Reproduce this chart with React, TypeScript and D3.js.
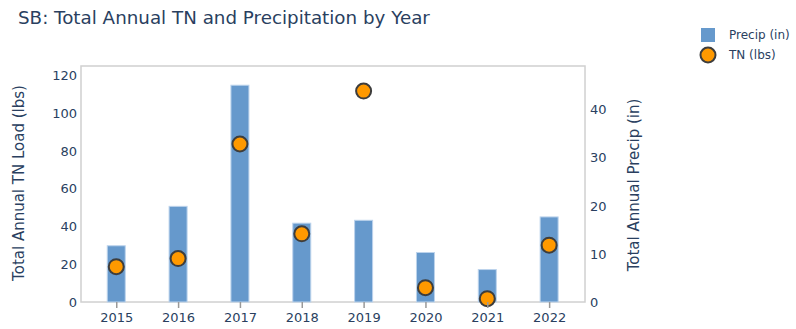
import { useEffect, useRef } from 'react';
import * as d3 from 'd3';

const years = [2015, 2016, 2017, 2018, 2019, 2020, 2021, 2022];
const precipIn = [11.7, 19.9, 45.1, 16.4, 17.0, 10.3, 6.75, 17.7];
const tnLbs = [18.7, 23.0, 83.7, 36.1, 111.7, 7.6, 1.75, 30.1];
const leftTicks = [0, 20, 40, 60, 80, 100, 120];
const rightTicks = [0, 10, 20, 30, 40];

const textColor = '#2a3f5f';
const font = 'Verdana, "DejaVu Sans", sans-serif';

export default function App() {
  const svgRef = useRef<SVGSVGElement>(null);

  useEffect(() => {
    if (!svgRef.current) return;
    const width = 796;
    const height = 329;
    const margin = { top: 66, right: 211, bottom: 27, left: 81 };
    const innerWidth = width - margin.left - margin.right;
    const innerHeight = height - margin.top - margin.bottom;

    const svg = d3.select(svgRef.current);
    svg.selectAll('*').remove();
    svg.attr('width', width).attr('height', height).style('font-family', font);

    // title
    svg.append('text')
      .attr('x', 18)
      .attr('y', 24)
      .attr('fill', textColor)
      .attr('font-size', 18.3)
      .text('SB: Total Annual TN and Precipitation by Year');

    const x = d3.scaleLinear().domain([2014.43, 2022.58]).range([0, innerWidth]);
    const yLeft = d3.scaleLinear().domain([0, 125]).range([innerHeight, 0]);
    const yRight = d3.scaleLinear().domain([0, 49.1]).range([innerHeight, 0]);

    const g = svg.append('g').attr('transform', `translate(${margin.left},${margin.top})`);

    g.append('rect')
      .attr('width', innerWidth)
      .attr('height', innerHeight)
      .attr('fill', 'none')
      .attr('stroke', '#d0d0d0')
      .attr('stroke-width', 1.5);

    // bars
    const barW = 18;
    g.selectAll('rect.bar')
      .data(years)
      .enter()
      .append('rect')
      .attr('class', 'bar')
      .attr('x', (d) => x(d) - barW / 2)
      .attr('width', barW)
      .attr('y', (d, i) => yRight(precipIn[i]))
      .attr('height', (d, i) => innerHeight - yRight(precipIn[i]))
      .attr('fill', '#6699cc')
      .attr('stroke', '#bcd3ec')
      .attr('stroke-width', 1);

    // points
    g.selectAll('circle.pt')
      .data(years)
      .enter()
      .append('circle')
      .attr('class', 'pt')
      .attr('cx', (d) => x(d))
      .attr('cy', (d, i) => yLeft(tnLbs[i]))
      .attr('r', 7.5)
      .attr('fill', '#ff9900')
      .attr('stroke', '#3d3d3d')
      .attr('stroke-width', 2);

    // x axis
    const xAxis = g.append('g')
      .attr('transform', `translate(0,${innerHeight})`)
      .call(d3.axisBottom(x).tickValues(years).tickFormat(d3.format('d')).tickSize(6).tickPadding(5));
    xAxis.select('.domain').remove();
    xAxis.selectAll('line').attr('stroke', '#999').attr('stroke-width', 1.5);
    xAxis.selectAll('text').attr('fill', textColor).attr('font-size', 13).attr('font-family', font);

    // left axis
    const la = g.append('g')
      .call(d3.axisLeft(yLeft).tickValues(leftTicks).tickSize(0).tickPadding(4));
    la.select('.domain').remove();
    la.selectAll('text').attr('fill', textColor).attr('font-size', 13).attr('font-family', font);

    // right axis
    const ra = g.append('g')
      .attr('transform', `translate(${innerWidth},0)`)
      .call(d3.axisRight(yRight).tickValues(rightTicks).tickSize(0).tickPadding(5));
    ra.select('.domain').remove();
    ra.selectAll('text').attr('fill', textColor).attr('font-size', 13).attr('font-family', font);

    // axis titles
    svg.append('text')
      .attr('transform', 'translate(24,183) rotate(-90)')
      .attr('text-anchor', 'middle')
      .attr('fill', textColor)
      .attr('font-size', 15)
      .text('Total Annual TN Load (lbs)');
    svg.append('text')
      .attr('transform', 'translate(639,185) rotate(-90)')
      .attr('text-anchor', 'middle')
      .attr('fill', textColor)
      .attr('font-size', 15)
      .text('Total Annual Precip (in)');

    // legend
    const lg = svg.append('g').attr('transform', 'translate(708,0)');
    lg.append('rect')
      .attr('x', -7)
      .attr('y', 28)
      .attr('width', 14)
      .attr('height', 14)
      .attr('fill', '#6699cc');
    lg.append('text')
      .attr('x', 21)
      .attr('y', 39)
      .attr('fill', textColor)
      .attr('font-size', 12)
      .text('Precip (in)');
    lg.append('circle')
      .attr('cx', 0)
      .attr('cy', 55)
      .attr('r', 7.5)
      .attr('fill', '#ff9900')
      .attr('stroke', '#3d3d3d')
      .attr('stroke-width', 2);
    lg.append('text')
      .attr('x', 21)
      .attr('y', 59)
      .attr('fill', textColor)
      .attr('font-size', 12)
      .text('TN (lbs)');
  }, []);

  return (
    <div style={{ position: 'absolute', left: 0, top: 0 }}>
      <svg ref={svgRef} />
    </div>
  );
}
